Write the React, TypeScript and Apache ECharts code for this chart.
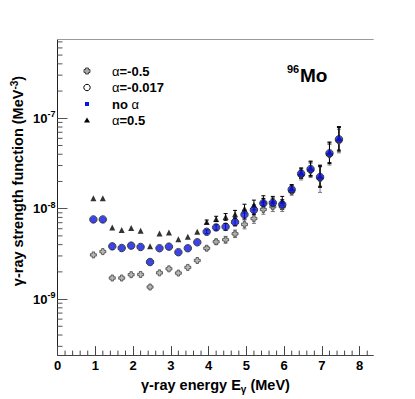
import React, { useEffect, useRef } from "react";
import * as echarts from "echarts";

// gamma-ray energies (MeV)
const energies = [0.95, 1.2, 1.45, 1.7, 1.95, 2.2, 2.45, 2.7, 2.95, 3.2, 3.45, 3.7, 3.95, 4.2, 4.45, 4.7, 4.95, 5.2, 5.45, 5.7, 5.95, 6.2, 6.45, 6.7, 6.95, 7.2, 7.45];

// strength functions (MeV^-3)
const alphaM05 = [3.08e-9, 3.35e-9, 1.71e-9, 1.71e-9, 1.86e-9, 1.87e-9, 1.36e-9, 1.95e-9, 2.16e-9, 1.94e-9, 2.24e-9, 2.67e-9, 3.65e-9, 4.3e-9, 4.53e-9, 5.27e-9, 6.7e-9, 7.77e-9, 9.8e-9, 1.05e-8, 1.05e-8, 1.55e-8, 2.35e-8, 2.65e-8, 2.15e-8, 3.95e-8, 5.6e-8];
const alphaM0017 = [7.6e-9, 7.6e-9, 3.83e-9, 3.67e-9, 3.9e-9, 3.77e-9, 2.57e-9, 3.65e-9, 3.8e-9, 3.3e-9, 3.65e-9, 4.25e-9, 5.55e-9, 6.2e-9, 6.3e-9, 7.1e-9, 8.6e-9, 9.7e-9, 1.15e-8, 1.16e-8, 1.11e-8, 1.63e-8, 2.44e-8, 2.74e-8, 2.24e-8, 4.1e-8, 5.85e-8];
const noAlpha = [7.6e-9, 7.6e-9, 3.83e-9, 3.67e-9, 3.9e-9, 3.77e-9, 2.57e-9, 3.65e-9, 3.8e-9, 3.3e-9, 3.65e-9, 4.25e-9, 5.55e-9, 6.2e-9, 6.3e-9, 7.1e-9, 8.6e-9, 9.7e-9, 1.15e-8, 1.16e-8, 1.11e-8, 1.63e-8, 2.44e-8, 2.74e-8, 2.24e-8, 4.1e-8, 5.85e-8];
const alphaP05 = [1.3e-8, 1.3e-8, 6.2e-9, 5.8e-9, 6.1e-9, 5.7e-9, 3.85e-9, 5.3e-9, 5.45e-9, 4.6e-9, 4.89e-9, 5.55e-9, 7.13e-9, 7.7e-9, 8.1e-9, 8.7e-9, 1.0e-8, 1.1e-8, 1.23e-8, 1.21e-8, 1.21e-8, 1.68e-8, 2.5e-8, 2.8e-8, 2.3e-8, 4.2e-8, 6.0e-8];

// relative uncertainties
const relErrBlack = [0, 0, 0, 0, 0, 0, 0, 0, 0, 0, 0, 0, 0.05, 0.07, 0.09, 0.1, 0.12, 0.13, 0.13, 0.13, 0.13, 0.1, 0.13, 0.2, 0.3, 0.3, 0.35];
const relErrGray = [0, 0, 0, 0, 0, 0, 0, 0, 0, 0, 0, 0, 0.05, 0.07, 0.09, 0.1, 0.12, 0.13, 0.13, 0.13, 0.13, 0.1, 0.13, 0.2, 0.42, 0.3, 0.35];

// axis ticks
const xMajorTicks = [0, 1, 2, 3, 4, 5, 6, 7, 8];
const xMinorSteps = [0.2, 0.4, 0.6, 0.8];
const yDecades = [1e-10, 1e-9, 1e-8, 1e-7];
const yMantissas = [2, 3, 4, 5, 6, 7, 8, 9];

const X_MIN = 0;
const X_MAX = 8.36;
const Y_MIN = 2.4e-10;
const Y_MAX = 7.4e-7;

const FONT = "'Liberation Sans', Arial, Helvetica, sans-serif";
const BLUE = "#0a14e6";
const GRAYFILL = "#a8a8a8";
const GRAYLINE = "#444";

const crossPath = "path://M3,0 L7,0 L7,3 L10,3 L10,7 L7,7 L7,10 L3,10 L3,7 L0,7 L0,3 L3,3 Z";

function pairs(vals: number[]) {
  return energies.map((e, i) => [e, vals[i]]);
}
function errTriples(vals: number[], errs: number[]) {
  return energies.map((e, i) => [e, vals[i], errs[i]]);
}

function errorSeries(vals: number[], errs: number[], color: string, z: number) {
  return {
    type: "custom",
    z,
    silent: true,
    data: errTriples(vals, errs),
    renderItem: (params: any, api: any) => {
      const x = api.value(0);
      const y = api.value(1);
      const e = api.value(2);
      if (!e) return null;
      const top = api.coord([x, y * (1 + e)]);
      const bot = api.coord([x, y / (1 + e)]);
      const s = { stroke: color, lineWidth: 1 };
      return {
        type: "group",
        children: [
          { type: "line", shape: { x1: top[0], y1: top[1], x2: bot[0], y2: bot[1] }, style: s },
          { type: "line", shape: { x1: top[0] - 2, y1: top[1], x2: top[0] + 2, y2: top[1] }, style: s },
          { type: "line", shape: { x1: bot[0] - 2, y1: bot[1], x2: bot[0] + 2, y2: bot[1] }, style: s },
        ],
      };
    },
  };
}

export default function App() {
  const ref = useRef<HTMLDivElement>(null);
  useEffect(() => {
    if (!ref.current) return;
    const chart = echarts.init(ref.current, undefined, { renderer: "svg" });

    const xMinor: number[] = [];
    xMajorTicks.forEach((m) => xMinorSteps.forEach((s) => { if (m + s < X_MAX) xMinor.push(m + s); }));
    const yMinor: number[] = [];
    yDecades.forEach((d) => yMantissas.forEach((m) => { const v = m * d; if (v > Y_MIN && v < Y_MAX) yMinor.push(v); }));

    const option: any = {
      animation: false,
      backgroundColor: "#fff",
      grid: { left: 57.5, right: 41.7, top: 39.7, bottom: 40.5, containLabel: false },
      xAxis: [
        {
          type: "value",
          min: X_MIN,
          max: X_MAX,
          interval: 1,
          axisLine: { show: true, lineStyle: { color: "#444", width: 1 } },
          axisTick: { show: true, inside: true, length: 9, lineStyle: { color: "#444" } },
          splitLine: { show: false },
          axisLabel: {
            showMaxLabel: false,
            margin: 4,
            color: "#000",
            fontFamily: FONT,
            fontWeight: "bold",
            fontSize: 13,
            formatter: (v: number) => String(Math.round(v)),
          },
          name: "{t|γ-ray energy E}{u|γ}{t| (MeV)}",
          nameLocation: "middle",
          nameGap: 14,
          nameTextStyle: {
            rich: {
              t: { fontFamily: FONT, fontWeight: "bold", fontSize: 14.5, color: "#000" },
              u: { fontFamily: FONT, fontWeight: "bold", fontSize: 10, color: "#000", padding: [9, 0, 0, 0] },
            },
          },
        },
        {
          type: "value",
          position: "top",
          min: X_MIN,
          max: X_MAX,
          axisLine: { show: true, lineStyle: { color: "#999", width: 1 } },
          axisTick: { show: false },
          axisLabel: { show: false },
          splitLine: { show: false },
        },
      ],
      yAxis: [
        {
          type: "log",
          logBase: 10,
          min: Y_MIN,
          max: Y_MAX,
          axisLine: { show: true, lineStyle: { color: "#888", width: 1 } },
          axisTick: { show: true, inside: true, length: 10, lineStyle: { color: "#555" } },
          splitLine: { show: false },
          axisLabel: {
            showMinLabel: false,
            showMaxLabel: false,
            margin: 2,
            color: "#000",
            formatter: (v: number) => `{b|10}{s|${Math.round(Math.log10(v))}}`,
            rich: {
              b: { fontFamily: FONT, fontWeight: "bold", fontSize: 13, color: "#000" },
              s: { fontFamily: FONT, fontWeight: "bold", fontSize: 9, color: "#000", padding: [0, 0, 8, 0] },
            },
          },
        },
        {
          type: "log",
          logBase: 10,
          position: "right",
          min: Y_MIN,
          max: Y_MAX,
          axisLine: { show: true, lineStyle: { color: "#222", width: 1 } },
          axisTick: { show: false },
          axisLabel: { show: false },
          splitLine: { show: false },
        },
      ],
      graphic: [
        {
          type: "text",
          x: 18,
          y: 181,
          rotation: Math.PI / 2,
          style: {
            text: "{t|γ-ray strength function (MeV}{s|-3}{t|)}",
            align: "center",
            verticalAlign: "middle",
            rich: {
              t: { fontFamily: FONT, fontWeight: "bold", fontSize: 14.5, fill: "#000" },
              s: { fontFamily: FONT, fontWeight: "bold", fontSize: 10, fill: "#000", padding: [0, 0, 8, 0] },
            },
          },
        },
        { type: "text", x: 287, y: 69, style: { text: "96", fontFamily: FONT, fontWeight: "bold", fontSize: 11, fill: "#000", verticalAlign: "middle" } },
        { type: "text", x: 300, y: 75.5, style: { text: "Mo", fontFamily: FONT, fontWeight: "bold", fontSize: 19, fill: "#000", verticalAlign: "middle" } },
        // legend
        {
          type: "polygon",
          shape: { points: [[85.5, 68], [88.5, 68], [88.5, 69.5], [90, 69.5], [90, 72.5], [88.5, 72.5], [88.5, 74], [85.5, 74], [85.5, 72.5], [84, 72.5], [84, 69.5], [85.5, 69.5]] },
          style: { fill: GRAYFILL, stroke: GRAYLINE, lineWidth: 1 },
        },
        { type: "circle", shape: { cx: 87, cy: 87.5, r: 3.2 }, style: { fill: "#fff", stroke: "#000", lineWidth: 1 } },
        { type: "rect", shape: { x: 85, y: 102, width: 4, height: 4 }, style: { fill: BLUE } },
        { type: "polygon", shape: { points: [[87, 117.5], [90, 122.5], [84, 122.5]] }, style: { fill: "#000" } },
        { type: "text", x: 112, y: 71, style: { text: "{a|α}{b|=-0.5}", verticalAlign: "middle", rich: { a: { fontFamily: FONT, fontSize: 13, fill: "#000" }, b: { fontFamily: FONT, fontWeight: "bold", fontSize: 13, fill: "#000" } } } },
        { type: "text", x: 112, y: 87.5, style: { text: "{a|α}{b|=-0.017}", verticalAlign: "middle", rich: { a: { fontFamily: FONT, fontSize: 13, fill: "#000" }, b: { fontFamily: FONT, fontWeight: "bold", fontSize: 13, fill: "#000" } } } },
        { type: "text", x: 112, y: 104, style: { text: "{b|no }{a|α}", verticalAlign: "middle", rich: { a: { fontFamily: FONT, fontSize: 13, fill: "#000" }, b: { fontFamily: FONT, fontWeight: "bold", fontSize: 13, fill: "#000" } } } },
        { type: "text", x: 112, y: 120.5, style: { text: "{a|α}{b|=0.5}", verticalAlign: "middle", rich: { a: { fontFamily: FONT, fontSize: 13, fill: "#000" }, b: { fontFamily: FONT, fontWeight: "bold", fontSize: 13, fill: "#000" } } } },
      ],
      series: [
        // minor ticks
        {
          type: "custom",
          z: 1,
          silent: true,
          data: yMinor.map((v) => [X_MIN, v]),
          renderItem: (params: any, api: any) => {
            const p = api.coord([api.value(0), api.value(1)]);
            return { type: "line", shape: { x1: p[0], y1: p[1], x2: p[0] + 5, y2: p[1] }, style: { stroke: "#555", lineWidth: 1 } };
          },
        },
        {
          type: "custom",
          z: 1,
          silent: true,
          data: xMinor.map((v) => [v, Y_MIN]),
          renderItem: (params: any, api: any) => {
            const p = api.coord([api.value(0), api.value(1)]);
            return { type: "line", shape: { x1: p[0], y1: p[1], x2: p[0], y2: p[1] - 4.5 }, style: { stroke: "#444", lineWidth: 1 } };
          },
        },
        errorSeries(alphaM05, relErrGray, "#777", 2),
        errorSeries(alphaP05, relErrBlack, "#000", 2),
        errorSeries(noAlpha, relErrBlack, "#000", 2),
        {
          name: "α=-0.5",
          type: "scatter",
          z: 3,
          symbol: crossPath,
          symbolSize: 6,
          data: pairs(alphaM05),
          itemStyle: { color: GRAYFILL, borderColor: GRAYLINE, borderWidth: 1 },
        },
        {
          name: "α=0.5",
          type: "scatter",
          z: 4,
          symbol: "triangle",
          symbolSize: 6,
          data: pairs(alphaP05),
          itemStyle: { color: "#000" },
        },
        {
          name: "no α",
          type: "scatter",
          z: 5,
          symbol: "circle",
          symbolSize: 7,
          data: pairs(noAlpha),
          itemStyle: { color: BLUE },
        },
        {
          name: "α=-0.017",
          type: "scatter",
          z: 6,
          symbol: "circle",
          symbolSize: 7.5,
          data: pairs(alphaM0017),
          itemStyle: { color: "rgba(0,0,0,0)", borderColor: "#111", borderWidth: 1 },
        },
      ],
    };
    chart.setOption(option);
    return () => chart.dispose();
  }, []);

  return (
    <div
      ref={ref}
      style={{ position: "fixed", left: 0, top: 0, width: 415, height: 399, background: "#fff" }}
    />
  );
}
